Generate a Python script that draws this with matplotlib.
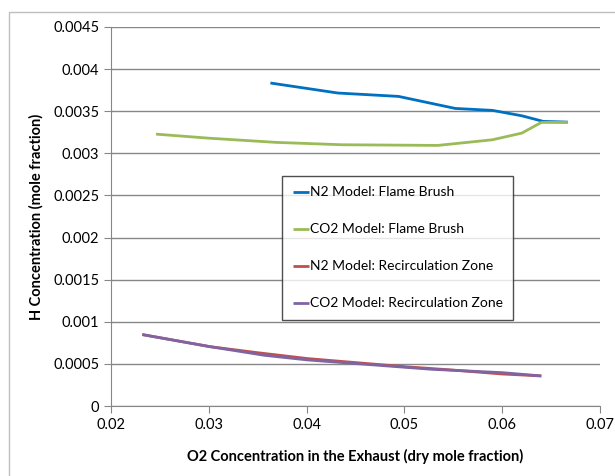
import matplotlib; matplotlib.use('Agg')
import matplotlib.pyplot as plt
from matplotlib.ticker import FuncFormatter, MultipleLocator
from matplotlib.patches import Rectangle

n2_fb_x = [0.0363, 0.0432, 0.0494, 0.0552, 0.0590, 0.0620, 0.0642, 0.0667]
n2_fb_y = [0.003835, 0.003716, 0.003676, 0.003533, 0.003510, 0.003446, 0.003379, 0.003371]
co2_fb_x = [0.0246, 0.0300, 0.0369, 0.0436, 0.0534, 0.0590, 0.0620, 0.0640, 0.0667]
co2_fb_y = [0.003228, 0.003180, 0.003130, 0.003102, 0.003094, 0.003161, 0.003240, 0.003367, 0.003367]
n2_rz_x = [0.0232, 0.0301, 0.0349, 0.0401, 0.0500, 0.0548, 0.0600, 0.0640]
n2_rz_y = [0.000848, 0.000705, 0.000634, 0.000563, 0.000467, 0.000428, 0.000380, 0.000357]
co2_rz_x = [0.0232, 0.0301, 0.0357, 0.0401, 0.0528, 0.0600, 0.0640]
co2_rz_y = [0.000848, 0.000705, 0.000602, 0.000547, 0.000436, 0.000396, 0.000357]

labels = ['N2 Model: Flame Brush', 'CO2 Model: Flame Brush',
          'N2 Model: Recirculation Zone', 'CO2 Model: Recirculation Zone']
colors = ['#0070C0', '#9BBB59', '#C0504D', '#8064A2']

plt.rcParams['font.family'] = ['Lato', 'DejaVu Sans']
fig = plt.figure(figsize=(6.15, 4.76), dpi=100)
fig.patches.append(Rectangle((9/615, -0.5), 1.5, 1.5 - 12/476, transform=fig.transFigure,
                             fill=False, edgecolor='#BFBFBF', lw=1))
ax = fig.add_axes([111/615, 1-406/476, 489/615, 379/476])

series = [(n2_fb_x, n2_fb_y), (co2_fb_x, co2_fb_y), (n2_rz_x, n2_rz_y), (co2_rz_x, co2_rz_y)]
for (x, y), lab, c in zip(series, labels, colors):
    ax.plot(x, y, color=c, lw=2, label=lab, solid_capstyle='butt')

ax.set_xlim(0.02, 0.07); ax.set_ylim(0, 0.0045)
ax.xaxis.set_major_locator(MultipleLocator(0.01))
ax.yaxis.set_major_locator(MultipleLocator(0.0005))
fmt = FuncFormatter(lambda v, p: f'{round(v, 6):g}')
ax.xaxis.set_major_formatter(fmt); ax.yaxis.set_major_formatter(fmt)
ax.grid(axis='y', color='#878787', lw=1)
ax.set_axisbelow(True)
for s in ['top', 'right']:
    ax.spines[s].set_visible(False)
for s in ['left', 'bottom']:
    ax.spines[s].set_color('#878787')
ax.tick_params(direction='out', length=5, color='#878787', labelsize=10.5)
ax.set_xlabel('O2 Concentration in the Exhaust (dry mole fraction)', fontsize=10.5, fontweight='bold', labelpad=12)
ax.set_ylabel('H Concentration (mole fraction)', fontsize=10.5, fontweight='bold', labelpad=7)

leg = ax.legend(loc='upper left', bbox_to_anchor=(0.35, 0.607), frameon=True, fancybox=False,
                edgecolor='#222222', fontsize=10, handlelength=1.2, handletextpad=0.05,
                labelspacing=1.8, borderpad=0.75, borderaxespad=0)
leg.get_frame().set_linewidth(1)
fig.savefig('out.png', dpi=100)
